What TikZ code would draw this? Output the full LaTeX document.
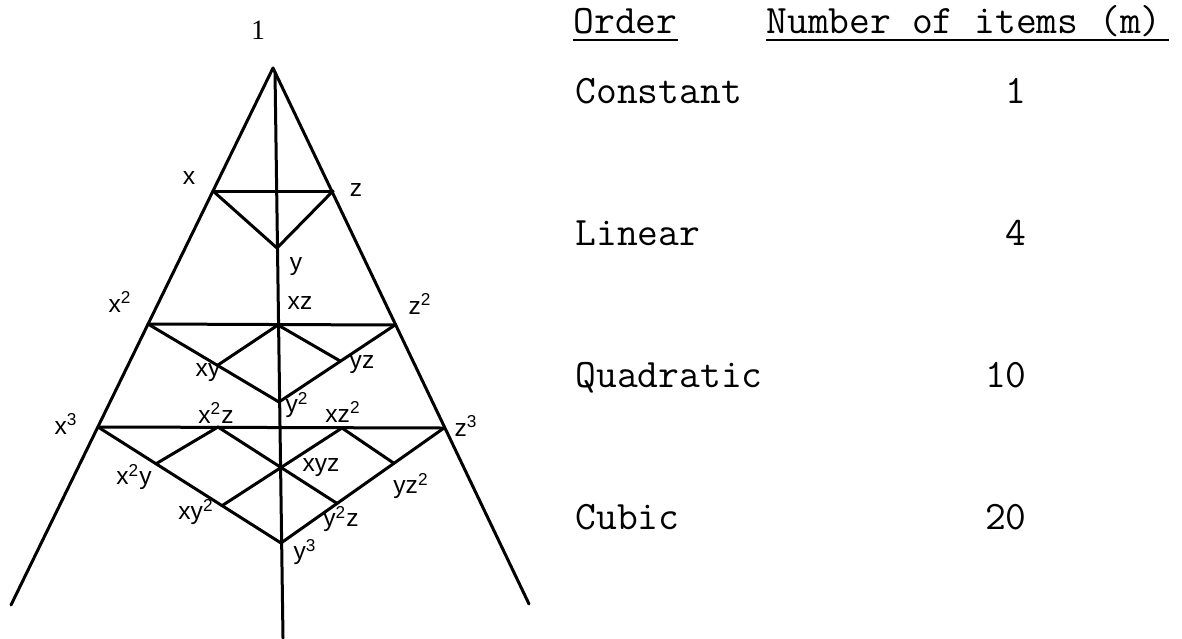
\documentclass[tikz,border=0pt]{standalone}
\usepackage{fontspec}
\setmainfont{Liberation Serif}
\newfontfamily\labfont{Liberation Sans}
\usetikzlibrary{calc}
\begin{document}
\begin{tikzpicture}[x=0.5pt,y=-0.5pt,
  edge/.style={line width=1.5pt, line cap=round, line join=round},
  lab/.style={font=\labfont\fontsize{12.3}{13}\selectfont, inner sep=0pt},
  toplab/.style={font=\rmfamily\fontsize{14}{15}\selectfont, inner sep=0pt},
  tab/.style={font=\ttfamily\fontsize{20.2}{22}\selectfont, inner sep=0pt},
  uline/.style={line width=0.9pt}]
\useasboundingbox (0,0) rectangle (1182,638);

% frame of the pyramid
\coordinate (A)  at (273,68);
\coordinate (LB) at (11,605);
\coordinate (RB) at (529,604);
\coordinate (VT) at (275,72);
\coordinate (VB) at (283,638);

% vertices
\coordinate (X1) at (213,191);
\coordinate (Z1) at (333,191);
\coordinate (Y1) at (277,248);
\coordinate (X2) at (148,324);
\coordinate (Z2) at (395,325);
\coordinate (XZ) at (278,325);
\coordinate (Y2) at (279,402);
\coordinate (XY) at ($(X2)!0.53!(Y2)$);
\coordinate (YZ) at ($(Z2)!0.47!(Y2)$);
\coordinate (X3) at (98,427);
\coordinate (Z3) at (444,428);
\coordinate (X2Z) at (218,427);
\coordinate (XZ2) at (342,428);
\coordinate (Y3) at (281,543);
\coordinate (X2Y) at ($(X3)!0.317!(Y3)$);
\coordinate (XY2) at ($(X3)!0.678!(Y3)$);
\coordinate (YZ2) at ($(Z3)!0.307!(Y3)$);
\coordinate (Y2Z) at ($(Z3)!0.656!(Y3)$);

% lines
\draw[edge] (A) -- (LB);
\draw[edge] (A) -- (RB);
\draw[edge] (VT) -- (VB);
\draw[edge] (X1) -- (Z1);
\draw[edge] (X1) -- (Y1) -- (Z1);
\draw[edge] (X2) -- (Z2);
\draw[edge] (X2) -- (Y2) -- (Z2);
\draw[edge] (XY) -- (XZ) -- (YZ);
\draw[edge] (X3) -- (Z3);
\draw[edge] (X3) -- (Y3) -- (Z3);
\draw[edge] (X2Y) -- (X2Z) -- (Y2Z);
\draw[edge] (XY2) -- (XZ2) -- (YZ2);

% labels
\node[toplab] (l1) at (258,30) {1};
\node[lab] (lx) at (189,178) {x};
\node[lab] (lz) at (356,190) {z};
\node[lab] (ly) at (296,267) {y};
\node[lab] (lxz) at (300,303) {xz};
\node[lab] (lx2) at (120,302) {x\textsuperscript{2}};
\node[lab] (lz2) at (420,304) {z\textsuperscript{2}};
\node[lab] (lxy) at (208,373) {xy};
\node[lab] (lyz) at (362,365) {yz};
\node[lab] (ly2) at (297,405) {y\textsuperscript{2}};
\node[lab] (lx2z) at (216,413) {x\textsuperscript{2}z};
\node[lab] (lxz2) at (343,412) {xz\textsuperscript{2}};
\node[lab] (lx3) at (66,424) {x\textsuperscript{3}};
\node[lab] (lz3) at (466,426) {z\textsuperscript{3}};
\node[lab] (lxyz) at (321,468) {xyz};
\node[lab] (lx2y) at (134,477) {x\textsuperscript{2}y};
\node[lab] (lyz2) at (411,486) {yz\textsuperscript{2}};
\node[lab] (lxy2) at (196,512) {xy\textsuperscript{2}};
\node[lab] (ly2z) at (341,519) {y\textsuperscript{2}z};
\node[lab] (ly3) at (305,552) {y\textsuperscript{3}};

% table
\node[tab, anchor=base west] (ord) at (573,33) {Order};
\node[tab, anchor=base west] (num) at (766,33) {Number of items (m)};
\draw[uline] ([yshift=-3.5pt]ord.base west) -- ([yshift=-3.5pt]ord.base east);
\draw[uline] ([yshift=-3.5pt]num.base west) -- ([yshift=-3.5pt,xshift=3.5pt]num.base east);

\node[tab, anchor=base west] (cons) at (575,103) {Constant};
\node[tab, anchor=base east] (n1) at (1027,103) {1};
\node[tab, anchor=base west] (lin) at (575,245) {Linear};
\node[tab, anchor=base east] (n4) at (1027,245) {4};
\node[tab, anchor=base west] (quad) at (575,387) {Quadratic};
\node[tab, anchor=base east] (n10) at (1027,387) {10};
\node[tab, anchor=base west] (cub) at (575,529) {Cubic};
\node[tab, anchor=base east] (n20) at (1027,529) {20};
\end{tikzpicture}
\end{document}
